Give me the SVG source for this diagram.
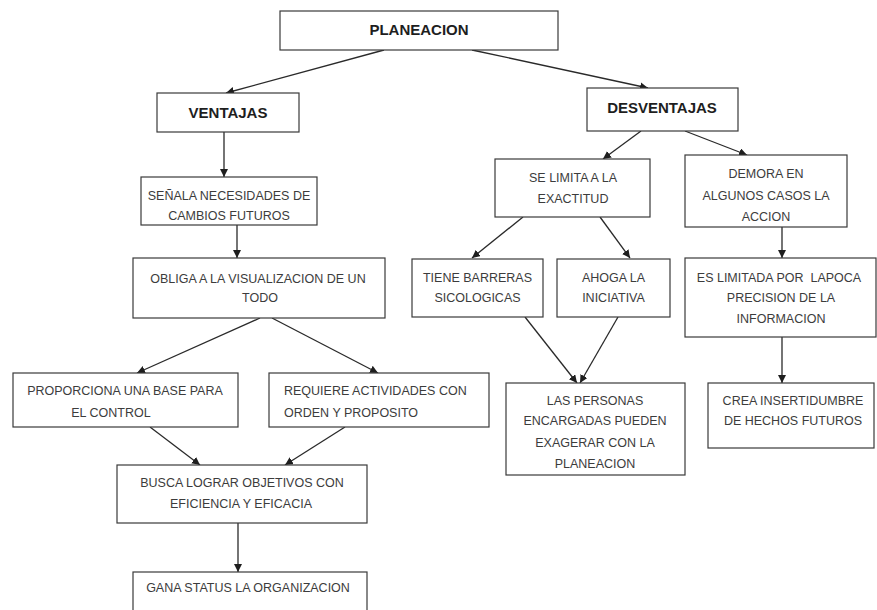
<svg xmlns="http://www.w3.org/2000/svg" width="877" height="610" viewBox="0 0 877 610">
<defs>
<style>
.box{fill:#fff;stroke:#3a3a3a;stroke-width:1.2}
.t{font-family:"Liberation Sans",Arial,sans-serif;font-size:12.5px;fill:#3c3c3c;text-anchor:middle}
.b{font-family:"Liberation Sans",Arial,sans-serif;font-size:15px;font-weight:bold;fill:#1e1e1e;text-anchor:middle}
.c{stroke:#2a2a2a;stroke-width:1.3;fill:none;marker-end:url(#ah)}
</style>
<marker id="ah" viewBox="0 0 10 10" refX="10" refY="5" markerWidth="8" markerHeight="8" markerUnits="userSpaceOnUse" orient="auto">
<path d="M0,0 L10,5 L0,10 z" fill="#1e1e1e"/>
</marker>
</defs>
<rect width="877" height="610" fill="#fff"/>

<g id="connectors">
<line class="c" x1="384" y1="50" x2="226" y2="93"/>
<line class="c" x1="472" y1="50" x2="648" y2="88"/>
<line class="c" x1="224" y1="132" x2="224" y2="177"/>
<line class="c" x1="237" y1="225" x2="237" y2="258"/>
<line class="c" x1="260" y1="318" x2="137" y2="373"/>
<line class="c" x1="272" y1="318" x2="378" y2="373"/>
<line class="c" x1="150" y1="427" x2="200" y2="465"/>
<line class="c" x1="345" y1="427" x2="285" y2="465"/>
<line class="c" x1="238" y1="523" x2="238" y2="572"/>
<line class="c" x1="641" y1="131" x2="603" y2="159"/>
<line class="c" x1="685" y1="131" x2="747" y2="155"/>
<line class="c" x1="523" y1="217" x2="472" y2="258"/>
<line class="c" x1="600" y1="217" x2="630" y2="258"/>
<line class="c" x1="525" y1="317" x2="577" y2="383"/>
<line class="c" x1="618" y1="317" x2="580" y2="383"/>
<line class="c" x1="782" y1="227" x2="782" y2="258"/>
<line class="c" x1="782" y1="337" x2="782" y2="383"/>
</g>

<g id="planeacion">
<rect class="box" x="280" y="11" width="278" height="39"/>
<text class="b" x="419" y="35">PLANEACION</text>
</g>
<g id="ventajas">
<rect class="box" x="157" y="93" width="142" height="39"/>
<text class="b" x="228" y="118">VENTAJAS</text>
</g>
<g id="desventajas">
<rect class="box" x="587" y="88" width="151" height="43"/>
<text class="b" x="662" y="113">DESVENTAJAS</text>
</g>
<g id="senala">
<rect class="box" x="141" y="177" width="176" height="48"/>
<text class="t" x="229" y="199.5">SEÑALA NECESIDADES DE</text>
<text class="t" x="229" y="219.5">CAMBIOS FUTUROS</text>
</g>
<g id="obliga">
<rect class="box" x="133" y="258" width="252" height="60"/>
<text class="t" x="258" y="282.5">OBLIGA A LA VISUALIZACION DE UN</text>
<text class="t" x="260" y="301.5">TODO</text>
</g>
<g id="proporciona">
<rect class="box" x="13" y="373" width="225" height="54"/>
<text class="t" x="125" y="394.5">PROPORCIONA UNA BASE PARA</text>
<text class="t" x="111" y="416.5">EL CONTROL</text>
</g>
<g id="requiere">
<rect class="box" x="269" y="373" width="220" height="54"/>
<text class="t" x="284" y="394.5" style="text-anchor:start">REQUIERE ACTIVIDADES CON</text>
<text class="t" x="284" y="416.5" style="text-anchor:start">ORDEN Y PROPOSITO</text>
</g>
<g id="busca">
<rect class="box" x="117" y="465" width="250" height="58"/>
<text class="t" x="242" y="486.5">BUSCA LOGRAR OBJETIVOS CON</text>
<text class="t" x="241" y="507.5">EFICIENCIA Y EFICACIA</text>
</g>
<g id="gana">
<rect class="box" x="133" y="572" width="234" height="50"/>
<text class="t" x="248" y="592">GANA STATUS LA ORGANIZACION</text>
</g>
<g id="selimita">
<rect class="box" x="495" y="159" width="155" height="58"/>
<text class="t" x="573" y="181.5">SE LIMITA A LA</text>
<text class="t" x="573" y="202.5">EXACTITUD</text>
</g>
<g id="demora">
<rect class="box" x="685" y="155" width="162" height="72"/>
<text class="t" x="766" y="177.5">DEMORA EN</text>
<text class="t" x="766" y="199.5">ALGUNOS CASOS LA</text>
<text class="t" x="766" y="220.5">ACCION</text>
</g>
<g id="tiene">
<rect class="box" x="412" y="259" width="131" height="58"/>
<text class="t" x="477.5" y="281.5">TIENE BARRERAS</text>
<text class="t" x="477.5" y="301.5">SICOLOGICAS</text>
</g>
<g id="ahoga">
<rect class="box" x="557" y="259" width="113" height="58"/>
<text class="t" x="613.5" y="281.5">AHOGA LA</text>
<text class="t" x="613.5" y="301.5">INICIATIVA</text>
</g>
<g id="limitada">
<rect class="box" x="685" y="258" width="191" height="79"/>
<text class="t" x="779" y="281.5" style="white-space:pre">ES LIMITADA POR  LAPOCA</text>
<text class="t" x="781" y="301.5">PRECISION DE LA</text>
<text class="t" x="781" y="322.5">INFORMACION</text>
</g>
<g id="personas">
<rect class="box" x="506" y="383" width="179" height="92"/>
<text class="t" x="595" y="404.5">LAS PERSONAS</text>
<text class="t" x="595" y="424.5">ENCARGADAS PUEDEN</text>
<text class="t" x="595" y="446.5">EXAGERAR CON LA</text>
<text class="t" x="595" y="467.5">PLANEACION</text>
</g>
<g id="crea">
<rect class="box" x="708" y="383" width="166" height="65"/>
<text class="t" x="793" y="404.5">CREA INSERTIDUMBRE</text>
<text class="t" x="793" y="424.5">DE HECHOS FUTUROS</text>
</g>
</svg>
